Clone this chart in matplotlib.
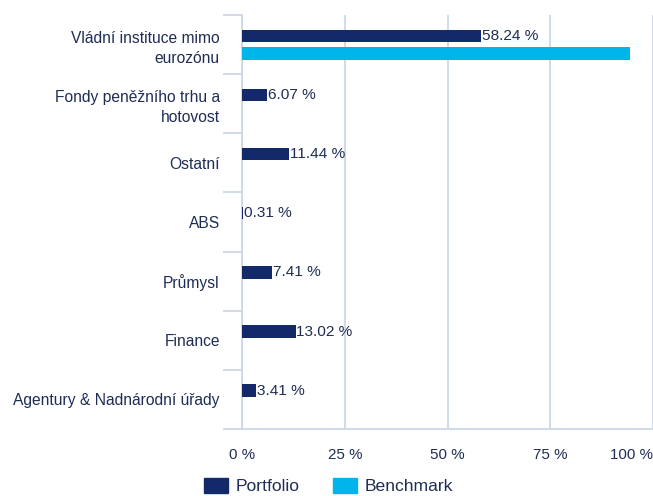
import numpy as np
import matplotlib.pyplot as plt
from matplotlib.patches import Patch

plt.rcParams['font.family'] = ['Liberation Sans', 'DejaVu Sans']

kategorie = ["Vládní instituce mimo\neurozónu", "Fondy peněžního trhu a\nhotovost", "Ostatní",
             "ABS", "Průmysl", "Finance", "Agentury & Nadnárodní úřady"]
portfolio = [58.24, 6.07, 11.44, 0.31, 7.41, 13.02, 3.41]
benchmark = [94.4, 0, 0, 0, 0, 0, 0]
xticks = [0, 25, 50, 75, 100]
xlabels = ["0 %", "25 %", "50 %", "75 %", "100 %"]

barva_port = "#13296a"
barva_bench = "#00b5ea"
barva_text = "#1f2d55"
barva_mriz = "#c9d5e4"

fig = plt.figure(figsize=(6.53, 4.96), dpi=100)
ax = fig.add_axes([242/653, 67/496, 411/653, 414/496])

y = np.arange(len(kategorie))
vyska = 0.21
posun = 0.148
ax.barh(y - posun, portfolio, height=vyska, color=barva_port, zorder=3)
ax.barh(y + posun, benchmark, height=vyska, color=barva_bench, zorder=3)

for yy, v in zip(y, portfolio):
    ax.text(v + 0.2, yy - posun, f"{v:.2f} %", va="center", ha="left",
            fontsize=11.1, color=barva_text, zorder=4)

ax.set_xlim(0, 100)
ax.set_ylim(len(kategorie) - 0.5, -0.5)

# hranice kategorii = hlavni ticky, popisky na vedlejsich
ax.set_yticks(np.arange(len(kategorie) + 1) - 0.5)
ax.set_yticklabels([])
ax.set_yticks(y, minor=True)
ax.set_yticklabels(kategorie, minor=True, fontsize=11.25, color=barva_text, linespacing=1.4)
ax.tick_params(axis="y", which="major", length=14, width=1.2, color=barva_mriz, direction="out")
ax.tick_params(axis="y", which="minor", length=0, pad=16)

ax.set_xticks(xticks)
ax.set_xticklabels(xlabels, fontsize=10.9, color=barva_text)
ax.tick_params(axis="x", length=0, pad=14)
ax.get_xticklabels()[-1].set_horizontalalignment("right")

ax.grid(axis="x", color=barva_mriz, linewidth=1.2, zorder=0)
for s in ["top", "right"]:
    ax.spines[s].set_visible(False)
ax.spines["left"].set_color(barva_mriz)
ax.spines["left"].set_linewidth(1.2)
ax.spines["bottom"].set_color(barva_mriz)
ax.spines["bottom"].set_linewidth(1.2)

handles = [Patch(color=barva_port, label="Portfolio"), Patch(color=barva_bench, label="Benchmark")]
leg = fig.legend(handles=handles, loc="center", bbox_to_anchor=(0.503, 0.02), ncol=2,
                 frameon=False, fontsize=12.6, handlelength=1.35, handleheight=0.95,
                 columnspacing=1.9, handletextpad=0.45, borderpad=0.1)
for t in leg.get_texts():
    t.set_color(barva_text)

fig.savefig("out.png", dpi=100)
